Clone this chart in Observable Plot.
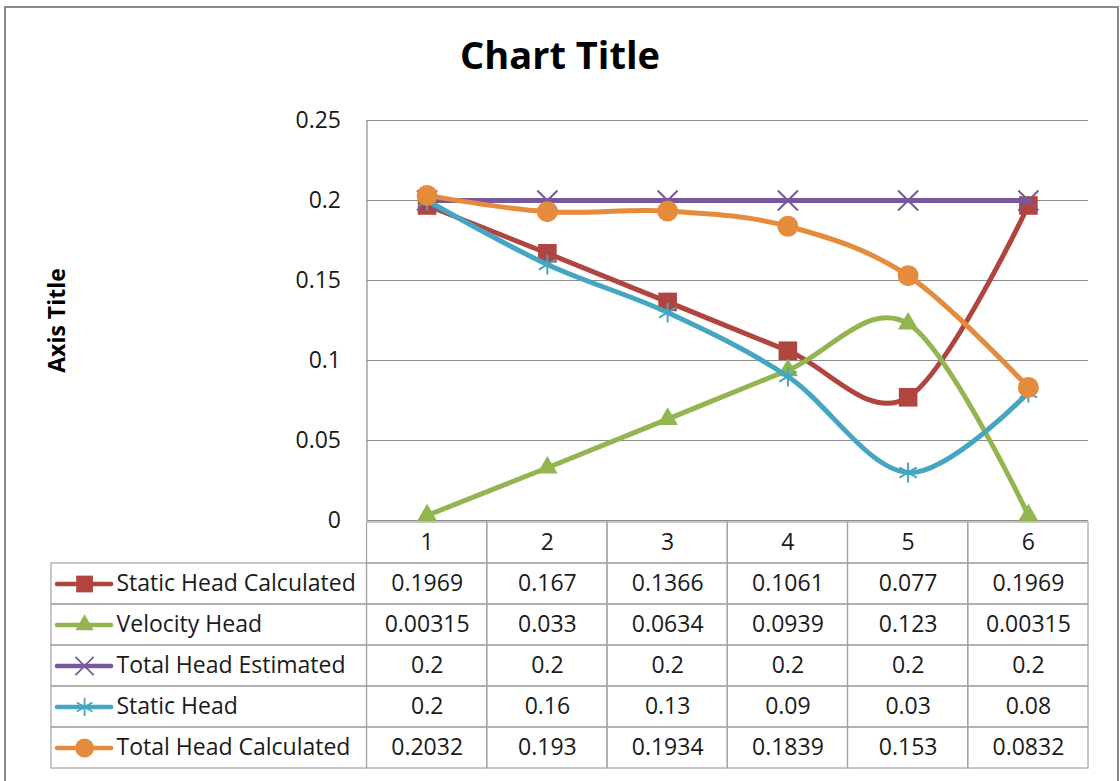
<!DOCTYPE html>
<html>
<head>
<meta charset="utf-8">
<script src="https://cdn.jsdelivr.net/npm/d3@7"></script>
<script src="https://cdn.jsdelivr.net/npm/@observablehq/plot@0.6"></script>
<style>
  html, body { margin: 0; padding: 0; background: #fff; }
  #wrap { position: relative; width: 1120px; height: 781px; overflow: hidden; background: #fff; font-family: "Open Sans", sans-serif; }
  #border { position: absolute; left: 4px; top: 6px; width: 1115px; height: 820px; border: 2px solid #8a8a8a; box-sizing: border-box; }
  #title { position: absolute; left: 0; top: 35px; width: 1120px; text-align: center; font-weight: 700; font-size: 38px; line-height: 38px; color: #000; }
  .layer { position: absolute; left: 0; top: 0; }
</style>
</head>
<body>
<div id="wrap">
  <div id="border"></div>
  <div id="table" class="layer"></div>
  <div id="chart" class="layer"></div>
  <div id="title">Chart Title</div>
</div>
<script>
// ---- data ----
const categories = [1, 2, 3, 4, 5, 6];
const seriesNames = ["Static Head Calculated", "Velocity Head", "Total Head Estimated", "Static Head", "Total Head Calculated"];
const staticHeadCalculated = [0.1969, 0.167, 0.1366, 0.1061, 0.077, 0.1969];
const velocityHead = [0.00315, 0.033, 0.0634, 0.0939, 0.123, 0.00315];
const totalHeadEstimated = [0.2, 0.2, 0.2, 0.2, 0.2, 0.2];
const staticHead = [0.2, 0.16, 0.13, 0.09, 0.03, 0.08];
const totalHeadCalculated = [0.2032, 0.193, 0.1934, 0.1839, 0.153, 0.0832];
const yTicks = [0, 0.05, 0.1, 0.15, 0.2, 0.25];
const yTickLabels = ["0", "0.05", "0.1", "0.15", "0.2", "0.25"];
const axisTitle = "Axis Title";

// ---- styles ----
const seriesValues = [staticHeadCalculated, velocityHead, totalHeadEstimated, staticHead, totalHeadCalculated];
const seriesColors = ["#B0443F", "#93B550", "#77599B", "#46A6C1", "#E68A3C"];
const seriesSymbols = ["square", "triangle", "times", "asterisk", "circle"];
const seriesR = [10.5, 7.6, 9.2, 9.5, 10.5];
const seriesFilled = [true, true, false, false, true];

const series = seriesNames.map((name, k) => ({
  name, values: seriesValues[k], color: seriesColors[k], symbol: seriesSymbols[k], r: seriesR[k], filled: seriesFilled[k]
}));

const W = 1120, H = 781;
const textColor = "#1a1a1a";
const gridColor = "#8c8c8c";
const tableColor = "#a3a3a3";
const fontSize = 23;

// ---- table (data table below the chart) ----
const labelColumnUnits = 2.624; // width of the legend column, in category units
const labelLeft = 0.5 - labelColumnUnits;
const tableRows = ["", ...seriesNames];
const cells = [];
categories.forEach(c => cells.push({row: "", x1: c - 0.5, x2: c + 0.5, xc: c, text: String(c)}));
series.forEach(s => {
  cells.push({row: s.name, x1: labelLeft, x2: 0.5});
  categories.forEach((c, i) => cells.push({row: s.name, x1: c - 0.5, x2: c + 0.5, xc: c, text: String(s.values[i])}));
});

const tablePlot = Plot.plot({
  width: W, height: H,
  marginLeft: 51, marginRight: 32, marginTop: 520, marginBottom: 12,
  style: {background: "transparent", fontFamily: "Open Sans", overflow: "visible"},
  x: {domain: [labelLeft, 6.5], axis: null},
  y: {type: "band", domain: tableRows, padding: 0, axis: null},
  marks: [
    Plot.barX(cells, {x1: "x1", x2: "x2", y: "row", fill: "none", stroke: tableColor, strokeWidth: 1.2}),
    Plot.text(cells.filter(d => d.text), {x: "xc", y: "row", text: "text", fontSize, fill: textColor}),
    Plot.text(series, {x: labelLeft, y: "name", text: "name", textAnchor: "start", dx: 65, fontSize, fill: textColor}),
    ...series.flatMap(s => [
      Plot.ruleY([s], {y: "name", x1: labelLeft + 0.05, x2: labelLeft + 0.5, stroke: s.color, strokeWidth: 4.5, strokeLinecap: "round"}),
      Plot.dot([s], {x: labelLeft + 0.275, y: "name", symbol: s.symbol, r: s.r * 0.9,
        fill: s.filled ? s.color : "none", stroke: s.color, strokeWidth: s.filled ? 0 : 1.8})
    ])
  ]
});
document.getElementById("table").append(tablePlot);

// ---- chart ----
const chartPlot = Plot.plot({
  width: W, height: H,
  marginLeft: 366.5, marginRight: 32, marginTop: 120, marginBottom: 261,
  style: {background: "transparent", fontFamily: "Open Sans", overflow: "visible"},
  x: {domain: [0.5, 6.5], axis: null},
  y: {domain: [0, 0.25]},
  marks: [
    Plot.ruleY(yTicks, {stroke: gridColor, strokeWidth: 1.2}),
    Plot.ruleX([0.5], {stroke: gridColor, strokeWidth: 1.2}),
    Plot.axisY({ticks: yTicks, tickFormat: d => yTickLabels[yTicks.indexOf(d)], tickSize: 0, tickPadding: 26,
      fontSize, fill: textColor, label: null}),
    Plot.text([axisTitle], {frameAnchor: "left", dx: -309.5, dy: 0, rotate: -90, text: d => d,
      fontSize: 23, fontWeight: "bold", fill: "#000", textAnchor: "middle", lineAnchor: "middle"}),
    ...series.flatMap(s => {
      const pts = categories.map((c, i) => ({x: c, y: s.values[i]}));
      return [
        Plot.line(pts, {x: "x", y: "y", stroke: s.color, strokeWidth: 5, curve: "cardinal", tension: 0}),
        Plot.dot(pts, {x: "x", y: "y", symbol: s.symbol, r: s.r,
          fill: s.filled ? s.color : "none", stroke: s.color, strokeWidth: s.filled ? 0 : 2})
      ];
    })
  ]
});
document.getElementById("chart").append(chartPlot);
</script>
</body>
</html>
